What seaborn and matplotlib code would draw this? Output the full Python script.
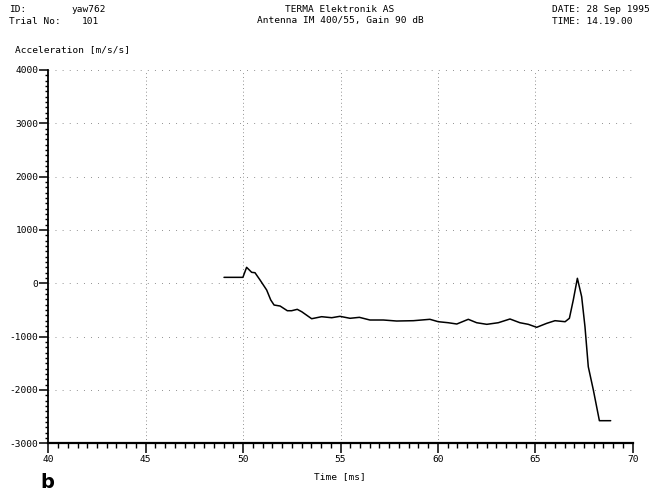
import matplotlib
matplotlib.use("Agg")
import matplotlib.pyplot as plt
import numpy as np
import pandas as pd
import seaborn as sns
from matplotlib.ticker import MultipleLocator

# Trace: time [ms] vs acceleration [m/s/s]
time_ms = [49.02, 49.99, 50.18, 50.44, 50.61, 50.87, 51.21, 51.42, 51.59, 51.90,
           52.27, 52.49, 52.78, 53.01, 53.52, 54.03, 54.55, 54.97, 55.49, 55.97,
           56.51, 57.20, 57.88, 58.74, 59.59, 60.02, 60.53, 60.97, 61.56, 61.99,
           62.51, 63.10, 63.70, 64.21, 64.64, 65.07, 65.59, 66.01, 66.53, 66.75,
           66.95, 67.16, 67.38, 67.55, 67.72, 67.98, 68.29, 68.87]
accel = [112, 112, 300, 206, 199, 62, -126, -313, -407, -426,
         -514, -514, -488, -533, -664, -626, -645, -619, -656, -638,
         -688, -688, -707, -701, -675, -720, -739, -763, -675, -739,
         -769, -739, -669, -739, -769, -825, -750, -701, -720, -656,
         -313, 94, -251, -814, -1564, -2001, -2576, -2576]

x_ticks = [40, 45, 50, 55, 60, 65, 70]
y_ticks = [-3000, -2000, -1000, 0, 1000, 2000, 3000, 4000]

df = pd.DataFrame({"Time": time_ms, "Accel": accel})

sns.set_style("ticks")
plt.rcParams["font.family"] = ["DejaVu Sans Mono"]
plt.rcParams["axes.unicode_minus"] = False
plt.rcParams["text.color"] = "black"
plt.rcParams["xtick.color"] = "black"
plt.rcParams["ytick.color"] = "black"

W, H = 669, 494
fig = plt.figure(figsize=(W / 100, H / 100), dpi=100)
ax = fig.add_axes([48.3 / W, 1 - 443.3 / H, (632.7 - 48.3) / W, (443.3 - 70) / H])

# dotted grid drawn by hand so x and y can have different dot spacing
for xv in x_ticks[1:]:
    ax.axvline(xv, color="#777777", lw=0.7, ls=(0, (0.8, 3.0)), zorder=0)
for yv in y_ticks[1:]:
    ax.axhline(yv, color="#777777", lw=0.7, ls=(0, (0.8, 6.5)), zorder=0)

sns.lineplot(data=df, x="Time", y="Accel", color="black", lw=1.1, ax=ax)

ax.set_xlim(40, 70)
ax.set_ylim(-3000, 4000)
ax.set_xticks(x_ticks)
ax.set_yticks(y_ticks)
ax.xaxis.set_minor_locator(MultipleLocator(0.5))
ax.yaxis.set_minor_locator(MultipleLocator(100))
ax.set_xticklabels([str(v) for v in x_ticks], fontsize=6.8)
ax.set_yticklabels([str(v) for v in y_ticks], fontsize=6.8)
ax.tick_params(axis="x", which="major", direction="out", length=7, width=1.1, pad=1.5)
ax.tick_params(axis="x", which="minor", direction="out", length=3.5, width=1.0)
ax.tick_params(axis="y", which="major", direction="out", length=6.5, width=1.1, pad=0.5)
ax.tick_params(axis="y", which="minor", direction="out", length=2.5, width=1.0)
ax.set_xlabel("")
ax.set_ylabel("")

for s in ["top", "right"]:
    ax.spines[s].set_visible(False)
ax.spines["left"].set_linewidth(1.3)
ax.spines["bottom"].set_linewidth(1.6)
ax.spines["left"].set_color("black")
ax.spines["bottom"].set_color("black")


def ftext(px, py, s, **kw):
    fig.text(px / W, 1 - py / H, s, fontsize=kw.pop("fontsize", 6.8), va="center",
             color="black", **kw)


ftext(9, 10, "ID:")
ftext(72, 10, "yaw762")
ftext(9, 21, "Trial No:")
ftext(82, 21, "101")
ftext(340, 10, "TERMA Elektronik AS", ha="center")
ftext(340, 21, "Antenna IM 400/55, Gain 90 dB", ha="center")
ftext(552, 10, "DATE: 28 Sep 1995")
ftext(552, 21, "TIME: 14.19.00")
ftext(15, 50, "Acceleration [m/s/s]")
ftext(340, 477, "Time [ms]", ha="center")
fig.text(40 / W, 1 - 492 / H, "b", fontsize=14, fontweight="bold",
         family="DejaVu Sans", va="bottom", color="black")

fig.savefig("out.png", dpi=100)
